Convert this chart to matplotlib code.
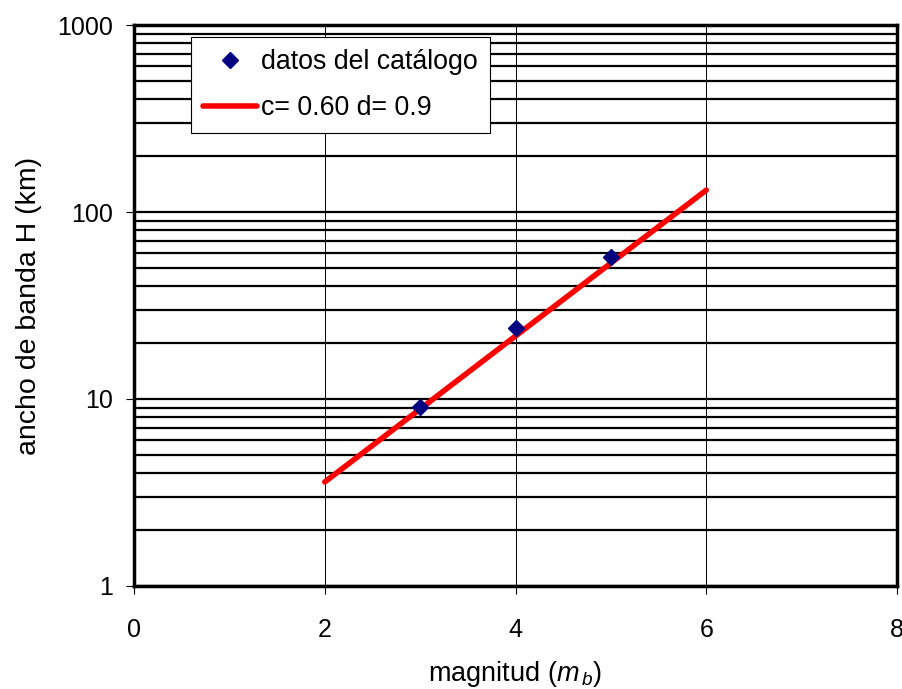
import matplotlib
matplotlib.use('Agg')
import matplotlib.pyplot as plt
from matplotlib.ticker import FixedLocator, NullFormatter

plt.rcParams['font.family'] = ['Liberation Sans', 'DejaVu Sans']
plt.rcParams['mathtext.fontset'] = 'custom'
plt.rcParams['mathtext.rm'] = 'Liberation Sans'
plt.rcParams['mathtext.it'] = 'Liberation Sans:italic'

# catalogue data
mag = [3, 4, 5]
ancho = [9.1, 24, 57.5]

# fitted line (end points)
mag_fit = [2, 6]
ancho_fit = [3.6, 131]

x_ticks = [0, 2, 4, 6, 8]
y_ticks = [1, 10, 100, 1000]
y_labels = ['1', '10', '100', '1000']

fig = plt.figure(figsize=(9.03, 6.89), dpi=100)
ax = fig.add_axes([0.1484, 0.1495, 0.8450, 0.8142])

ax.set_yscale('log')
ax.set_xlim(0, 8)
ax.set_ylim(1, 1000)

# horizontal grid: majors and minors, heavy black
minor_y = [m * 10 ** e for e in range(0, 3) for m in range(2, 10)]
ax.yaxis.set_minor_locator(FixedLocator(minor_y))
ax.yaxis.set_minor_formatter(NullFormatter())
ax.set_yticks(y_ticks)
ax.set_yticklabels(y_labels)
ax.grid(True, axis='y', which='both', color='black', linewidth=1.6)
ax.tick_params(axis='y', which='minor', length=0)
ax.set_xticks(x_ticks)
ax.grid(True, axis='x', which='major', color='black', linewidth=0.7)

ax.plot(mag_fit, ancho_fit, color='#ff0000', linewidth=4, solid_capstyle='round',
        label='c= 0.60 d= 0.9', zorder=3)
ax.plot(mag, ancho, linestyle='none', marker='D', markersize=8, color='#000080',
        label='datos del catálogo', zorder=4)

for s in ax.spines.values():
    s.set_linewidth(2.5)
    s.set_color('black')
ax.tick_params(axis='both', which='major', labelsize=18, length=6, width=0.8,
               direction='out')
ax.tick_params(axis='x', pad=17)
ax.tick_params(axis='y', pad=9)

ax.set_xlabel(r'magnitud ($m_{\,b}$)', fontsize=19.5, labelpad=12)
ax.set_ylabel('ancho de banda H (km)', fontsize=20.5, labelpad=11)

handles, labels = ax.get_legend_handles_labels()
leg = ax.legend(handles[::-1], labels[::-1], loc='upper left',
                bbox_to_anchor=(0.0747, 0.9786), fontsize=19.3, frameon=True,
                fancybox=False, edgecolor='black', framealpha=1,
                handlelength=2.0, handletextpad=0.15, borderpad=0.45,
                labelspacing=0.75, borderaxespad=0)
leg.get_frame().set_linewidth(0.8)

fig.savefig('out.png', dpi=100)
